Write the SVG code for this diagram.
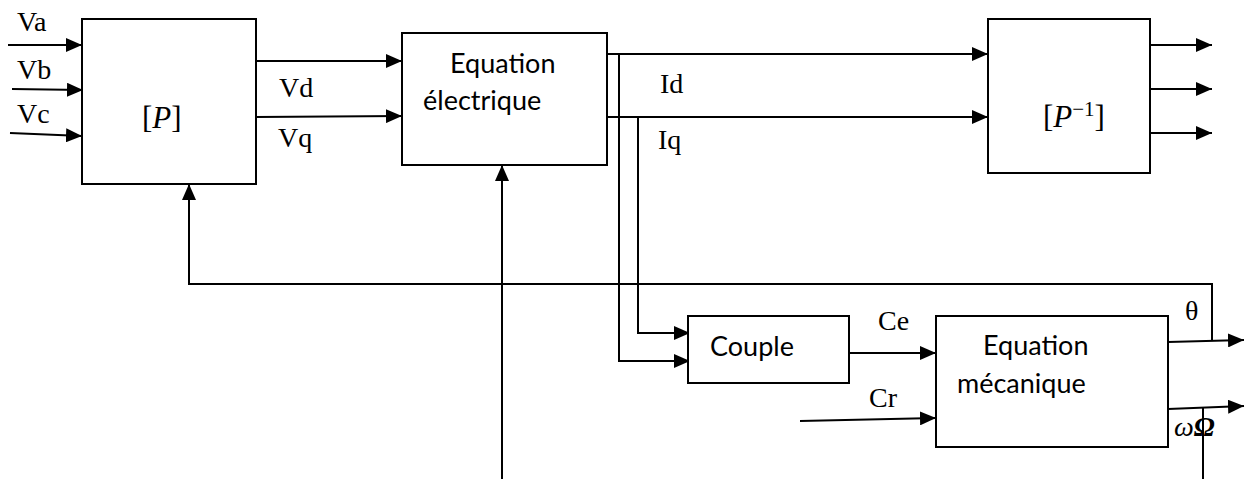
<svg xmlns="http://www.w3.org/2000/svg" width="1245" height="479" viewBox="0 0 1245 479">
<style>
.box{fill:#fff;stroke:#000;stroke-width:2}
.ln{fill:none;stroke:#000;stroke-width:2}
.ar{marker-end:url(#ah)}
.tm{font-family:"Liberation Serif",serif;font-size:28px;fill:#000}
.mt{font-family:"Liberation Serif",serif;font-size:31px;fill:#000}
.cb{font-family:Lato,"Liberation Sans",sans-serif;font-size:27px;fill:#000}
</style>
<defs>
<marker id="ah" markerUnits="userSpaceOnUse" markerWidth="16" markerHeight="14" refX="16" refY="7" orient="auto">
<path d="M0,0 L16,7 L0,14 z" fill="#000"/>
</marker>
</defs>
<rect width="1245" height="479" fill="#fff"/>
<g id="connectors">
<line class="ln ar" x1="8" y1="45" x2="82" y2="45"/>
<line class="ln ar" x1="12" y1="89" x2="83" y2="90"/>
<line class="ln ar" x1="10" y1="133" x2="82" y2="136"/>
<line class="ln ar" x1="256" y1="61" x2="402" y2="61"/>
<line class="ln ar" x1="256" y1="117" x2="402" y2="116"/>
<line class="ln ar" x1="607" y1="54" x2="988" y2="54"/>
<line class="ln ar" x1="607" y1="117" x2="988" y2="117"/>
<line class="ln ar" x1="1150" y1="45" x2="1212" y2="45"/>
<line class="ln ar" x1="1150" y1="89" x2="1212" y2="89"/>
<line class="ln ar" x1="1150" y1="133" x2="1212" y2="133"/>
<polyline class="ln ar" points="619,54 619,361 690,361"/>
<polyline class="ln ar" points="638,117 638,333 690,333"/>
<line class="ln ar" x1="849" y1="353" x2="936" y2="353"/>
<line class="ln ar" x1="800" y1="421" x2="936" y2="418"/>
<line class="ln ar" x1="1168" y1="342" x2="1244" y2="340"/>
<line class="ln ar" x1="1168" y1="409" x2="1244" y2="406"/>
<polyline class="ln ar" points="1212,340 1212,284 189,284 189,184"/>
<line class="ln ar" x1="502" y1="479" x2="502" y2="165"/>
<line class="ln" x1="1203" y1="407" x2="1203" y2="479"/>
</g>
<g id="labels">
<text class="tm" x="17" y="31">Va</text>
<text class="tm" x="17" y="79">Vb</text>
<text class="tm" x="17" y="123">Vc</text>
<text class="tm" x="279" y="97">Vd</text>
<text class="tm" x="278" y="147">Vq</text>
<text class="tm" x="660" y="93">Id</text>
<text class="tm" x="658" y="149">Iq</text>
<text class="tm" x="878" y="330">Ce</text>
<text class="tm" x="869" y="407">Cr</text>
<text class="tm" x="1185" y="320">θ</text>
<text class="tm" x="1174" y="436"><tspan font-style="italic">ω</tspan><tspan font-style="italic" font-weight="bold">Ω</tspan></text>
</g>
<g id="node-P">
<rect class="box" x="82" y="19" width="174" height="165"/>
<text class="mt" x="142" y="128">[<tspan font-style="italic">P</tspan>]</text>
</g>
<g id="node-elec">
<rect class="box" x="402" y="33" width="205" height="132"/>
<text class="cb" x="450" y="73">Equation</text>
<text class="cb" x="423" y="110">électrique</text>
</g>
<g id="node-Pinv">
<rect class="box" x="988" y="19" width="162" height="154"/>
<text class="mt" x="1043" y="127">[<tspan font-style="italic">P</tspan><tspan font-size="21" dy="-11">−1</tspan><tspan dy="11">]</tspan></text>
</g>
<g id="node-couple">
<rect class="box" x="688" y="316" width="161" height="67"/>
<text class="cb" x="710" y="356">Couple</text>
</g>
<g id="node-meca">
<rect class="box" x="936" y="316" width="232" height="131"/>
<text class="cb" x="983" y="355">Equation</text>
<text class="cb" x="957" y="393">mécanique</text>
</g>
</svg>
